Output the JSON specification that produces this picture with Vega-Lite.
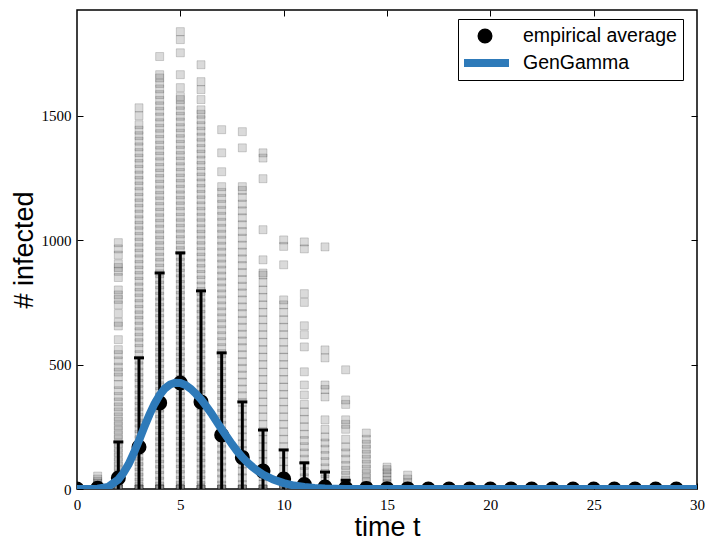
{
  "$schema": "https://vega.github.io/schema/vega-lite/v6.json",
  "width": 620,
  "height": 479,
  "autosize": {"type": "none"},
  "padding": {"left": 77, "top": 10, "right": 17, "bottom": 59},
  "background": "white",
  "config": {
    "view": {"stroke": "black", "strokeWidth": 1.5},
    "axis": {
      "grid": false,
      "domain": false,
      "tickSize": -6,
      "tickColor": "black",
      "tickWidth": 1,
      "labelFont": "Liberation Serif",
      "labelFontSize": 15,
      "labelColor": "black",
      "labelFlush": false,
      "labelOverlap": false,
      "titleFont": "Liberation Sans",
      "titleFontSize": 27,
      "titleFontWeight": "normal",
      "titleColor": "black"
    }
  },
  "datasets": {
    "sims": [
      {"t":0,"v":0},{"t":0,"v":0},{"t":0,"v":0},
      {"t":1,"v":0},{"t":1,"v":0},{"t":1,"v":0},{"t":1,"v":4},{"t":1,"v":9},{"t":1,"v":15},{"t":1,"v":22},{"t":1,"v":30},{"t":1,"v":40},{"t":1,"v":52},
      {"t":2,"v":0},{"t":2,"v":0},{"t":2,"v":0},{"t":2,"v":6},{"t":2,"v":15},{"t":2,"v":28},{"t":2,"v":42},{"t":2,"v":58},{"t":2,"v":75},{"t":2,"v":92},{"t":2,"v":110},{"t":2,"v":128},{"t":2,"v":146},{"t":2,"v":164},{"t":2,"v":182},{"t":2,"v":200},{"t":2,"v":218},{"t":2,"v":236},{"t":2,"v":254},{"t":2,"v":272},{"t":2,"v":290},{"t":2,"v":310},{"t":2,"v":330},{"t":2,"v":350},{"t":2,"v":372},{"t":2,"v":395},{"t":2,"v":420},{"t":2,"v":450},{"t":2,"v":470},{"t":2,"v":490},{"t":2,"v":515},{"t":2,"v":540},{"t":2,"v":560},{"t":2,"v":600},{"t":2,"v":655},{"t":2,"v":670},{"t":2,"v":705},{"t":2,"v":740},{"t":2,"v":762},{"t":2,"v":780},{"t":2,"v":800},{"t":2,"v":850},{"t":2,"v":875},{"t":2,"v":890},{"t":2,"v":905},{"t":2,"v":940},{"t":2,"v":965},{"t":2,"v":990},
      {"t":3,"v":0},{"t":3,"v":0},{"t":3,"v":0},{"t":3,"v":0},{"t":3,"v":10},{"t":3,"v":28},{"t":3,"v":48},{"t":3,"v":68},{"t":3,"v":90},{"t":3,"v":110},{"t":3,"v":132},{"t":3,"v":155},{"t":3,"v":175},{"t":3,"v":198},{"t":3,"v":220},{"t":3,"v":242},{"t":3,"v":265},{"t":3,"v":288},{"t":3,"v":310},{"t":3,"v":332},{"t":3,"v":355},{"t":3,"v":378},{"t":3,"v":400},{"t":3,"v":425},{"t":3,"v":448},{"t":3,"v":470},{"t":3,"v":495},{"t":3,"v":518},{"t":3,"v":540},{"t":3,"v":565},{"t":3,"v":588},{"t":3,"v":610},{"t":3,"v":632},{"t":3,"v":655},{"t":3,"v":678},{"t":3,"v":700},{"t":3,"v":722},{"t":3,"v":745},{"t":3,"v":768},{"t":3,"v":790},{"t":3,"v":812},{"t":3,"v":835},{"t":3,"v":858},{"t":3,"v":880},{"t":3,"v":902},{"t":3,"v":925},{"t":3,"v":948},{"t":3,"v":970},{"t":3,"v":992},{"t":3,"v":1015},{"t":3,"v":1038},{"t":3,"v":1060},{"t":3,"v":1082},{"t":3,"v":1105},{"t":3,"v":1128},{"t":3,"v":1150},{"t":3,"v":1172},{"t":3,"v":1195},{"t":3,"v":1218},{"t":3,"v":1240},{"t":3,"v":1262},{"t":3,"v":1285},{"t":3,"v":1308},{"t":3,"v":1330},{"t":3,"v":1352},{"t":3,"v":1375},{"t":3,"v":1398},{"t":3,"v":1420},{"t":3,"v":1442},{"t":3,"v":1464},{"t":3,"v":1500},{"t":3,"v":1532},
      {"t":4,"v":0},{"t":4,"v":0},{"t":4,"v":0},{"t":4,"v":0},{"t":4,"v":12},{"t":4,"v":32},{"t":4,"v":55},{"t":4,"v":78},{"t":4,"v":100},{"t":4,"v":122},{"t":4,"v":145},{"t":4,"v":168},{"t":4,"v":190},{"t":4,"v":212},{"t":4,"v":235},{"t":4,"v":258},{"t":4,"v":280},{"t":4,"v":302},{"t":4,"v":325},{"t":4,"v":348},{"t":4,"v":370},{"t":4,"v":392},{"t":4,"v":415},{"t":4,"v":438},{"t":4,"v":460},{"t":4,"v":482},{"t":4,"v":505},{"t":4,"v":528},{"t":4,"v":550},{"t":4,"v":572},{"t":4,"v":595},{"t":4,"v":618},{"t":4,"v":640},{"t":4,"v":662},{"t":4,"v":685},{"t":4,"v":708},{"t":4,"v":730},{"t":4,"v":752},{"t":4,"v":775},{"t":4,"v":798},{"t":4,"v":820},{"t":4,"v":842},{"t":4,"v":865},{"t":4,"v":888},{"t":4,"v":910},{"t":4,"v":932},{"t":4,"v":955},{"t":4,"v":978},{"t":4,"v":1000},{"t":4,"v":1022},{"t":4,"v":1045},{"t":4,"v":1068},{"t":4,"v":1090},{"t":4,"v":1112},{"t":4,"v":1135},{"t":4,"v":1158},{"t":4,"v":1180},{"t":4,"v":1202},{"t":4,"v":1225},{"t":4,"v":1248},{"t":4,"v":1270},{"t":4,"v":1292},{"t":4,"v":1315},{"t":4,"v":1338},{"t":4,"v":1360},{"t":4,"v":1382},{"t":4,"v":1405},{"t":4,"v":1428},{"t":4,"v":1450},{"t":4,"v":1472},{"t":4,"v":1495},{"t":4,"v":1518},{"t":4,"v":1540},{"t":4,"v":1562},{"t":4,"v":1585},{"t":4,"v":1608},{"t":4,"v":1630},{"t":4,"v":1652},{"t":4,"v":1665},{"t":4,"v":1738},
      {"t":5,"v":0},{"t":5,"v":0},{"t":5,"v":0},{"t":5,"v":0},{"t":5,"v":15},{"t":5,"v":35},{"t":5,"v":58},{"t":5,"v":80},{"t":5,"v":102},{"t":5,"v":125},{"t":5,"v":148},{"t":5,"v":170},{"t":5,"v":192},{"t":5,"v":215},{"t":5,"v":238},{"t":5,"v":260},{"t":5,"v":282},{"t":5,"v":305},{"t":5,"v":328},{"t":5,"v":350},{"t":5,"v":372},{"t":5,"v":395},{"t":5,"v":418},{"t":5,"v":440},{"t":5,"v":462},{"t":5,"v":485},{"t":5,"v":508},{"t":5,"v":530},{"t":5,"v":552},{"t":5,"v":575},{"t":5,"v":598},{"t":5,"v":620},{"t":5,"v":642},{"t":5,"v":665},{"t":5,"v":688},{"t":5,"v":710},{"t":5,"v":732},{"t":5,"v":755},{"t":5,"v":778},{"t":5,"v":800},{"t":5,"v":822},{"t":5,"v":845},{"t":5,"v":868},{"t":5,"v":890},{"t":5,"v":912},{"t":5,"v":935},{"t":5,"v":958},{"t":5,"v":980},{"t":5,"v":1002},{"t":5,"v":1025},{"t":5,"v":1048},{"t":5,"v":1070},{"t":5,"v":1092},{"t":5,"v":1115},{"t":5,"v":1138},{"t":5,"v":1160},{"t":5,"v":1182},{"t":5,"v":1205},{"t":5,"v":1228},{"t":5,"v":1250},{"t":5,"v":1272},{"t":5,"v":1295},{"t":5,"v":1318},{"t":5,"v":1340},{"t":5,"v":1362},{"t":5,"v":1385},{"t":5,"v":1408},{"t":5,"v":1430},{"t":5,"v":1452},{"t":5,"v":1475},{"t":5,"v":1498},{"t":5,"v":1520},{"t":5,"v":1542},{"t":5,"v":1565},{"t":5,"v":1577},{"t":5,"v":1613},{"t":5,"v":1665},{"t":5,"v":1753},{"t":5,"v":1806},{"t":5,"v":1838},
      {"t":6,"v":0},{"t":6,"v":0},{"t":6,"v":0},{"t":6,"v":0},{"t":6,"v":14},{"t":6,"v":36},{"t":6,"v":58},{"t":6,"v":80},{"t":6,"v":104},{"t":6,"v":126},{"t":6,"v":150},{"t":6,"v":172},{"t":6,"v":196},{"t":6,"v":218},{"t":6,"v":242},{"t":6,"v":264},{"t":6,"v":288},{"t":6,"v":310},{"t":6,"v":334},{"t":6,"v":356},{"t":6,"v":380},{"t":6,"v":402},{"t":6,"v":426},{"t":6,"v":448},{"t":6,"v":472},{"t":6,"v":494},{"t":6,"v":518},{"t":6,"v":540},{"t":6,"v":564},{"t":6,"v":586},{"t":6,"v":610},{"t":6,"v":632},{"t":6,"v":656},{"t":6,"v":678},{"t":6,"v":702},{"t":6,"v":724},{"t":6,"v":748},{"t":6,"v":770},{"t":6,"v":794},{"t":6,"v":816},{"t":6,"v":840},{"t":6,"v":862},{"t":6,"v":886},{"t":6,"v":908},{"t":6,"v":932},{"t":6,"v":954},{"t":6,"v":978},{"t":6,"v":1000},{"t":6,"v":1024},{"t":6,"v":1046},{"t":6,"v":1070},{"t":6,"v":1092},{"t":6,"v":1116},{"t":6,"v":1138},{"t":6,"v":1162},{"t":6,"v":1184},{"t":6,"v":1208},{"t":6,"v":1230},{"t":6,"v":1254},{"t":6,"v":1276},{"t":6,"v":1300},{"t":6,"v":1322},{"t":6,"v":1346},{"t":6,"v":1368},{"t":6,"v":1392},{"t":6,"v":1414},{"t":6,"v":1438},{"t":6,"v":1460},{"t":6,"v":1484},{"t":6,"v":1506},{"t":6,"v":1524},{"t":6,"v":1565},{"t":6,"v":1605},{"t":6,"v":1637},{"t":6,"v":1705},
      {"t":7,"v":0},{"t":7,"v":0},{"t":7,"v":0},{"t":7,"v":0},{"t":7,"v":16},{"t":7,"v":40},{"t":7,"v":64},{"t":7,"v":88},{"t":7,"v":112},{"t":7,"v":136},{"t":7,"v":160},{"t":7,"v":184},{"t":7,"v":208},{"t":7,"v":232},{"t":7,"v":256},{"t":7,"v":280},{"t":7,"v":304},{"t":7,"v":328},{"t":7,"v":352},{"t":7,"v":376},{"t":7,"v":400},{"t":7,"v":424},{"t":7,"v":448},{"t":7,"v":472},{"t":7,"v":496},{"t":7,"v":520},{"t":7,"v":544},{"t":7,"v":568},{"t":7,"v":592},{"t":7,"v":616},{"t":7,"v":640},{"t":7,"v":664},{"t":7,"v":688},{"t":7,"v":712},{"t":7,"v":736},{"t":7,"v":760},{"t":7,"v":784},{"t":7,"v":808},{"t":7,"v":832},{"t":7,"v":856},{"t":7,"v":880},{"t":7,"v":904},{"t":7,"v":928},{"t":7,"v":952},{"t":7,"v":976},{"t":7,"v":1000},{"t":7,"v":1024},{"t":7,"v":1048},{"t":7,"v":1072},{"t":7,"v":1096},{"t":7,"v":1120},{"t":7,"v":1144},{"t":7,"v":1168},{"t":7,"v":1192},{"t":7,"v":1215},{"t":7,"v":1275},{"t":7,"v":1351},{"t":7,"v":1444},
      {"t":8,"v":0},{"t":8,"v":0},{"t":8,"v":0},{"t":8,"v":0},{"t":8,"v":18},{"t":8,"v":45},{"t":8,"v":72},{"t":8,"v":100},{"t":8,"v":128},{"t":8,"v":155},{"t":8,"v":182},{"t":8,"v":210},{"t":8,"v":238},{"t":8,"v":265},{"t":8,"v":292},{"t":8,"v":320},{"t":8,"v":348},{"t":8,"v":375},{"t":8,"v":402},{"t":8,"v":430},{"t":8,"v":458},{"t":8,"v":485},{"t":8,"v":512},{"t":8,"v":540},{"t":8,"v":568},{"t":8,"v":595},{"t":8,"v":622},{"t":8,"v":650},{"t":8,"v":678},{"t":8,"v":705},{"t":8,"v":732},{"t":8,"v":760},{"t":8,"v":788},{"t":8,"v":815},{"t":8,"v":842},{"t":8,"v":870},{"t":8,"v":898},{"t":8,"v":925},{"t":8,"v":952},{"t":8,"v":980},{"t":8,"v":1008},{"t":8,"v":1035},{"t":8,"v":1062},{"t":8,"v":1090},{"t":8,"v":1118},{"t":8,"v":1145},{"t":8,"v":1172},{"t":8,"v":1200},{"t":8,"v":1215},{"t":8,"v":1371},{"t":8,"v":1436},
      {"t":9,"v":0},{"t":9,"v":0},{"t":9,"v":0},{"t":9,"v":0},{"t":9,"v":20},{"t":9,"v":50},{"t":9,"v":80},{"t":9,"v":110},{"t":9,"v":140},{"t":9,"v":170},{"t":9,"v":200},{"t":9,"v":230},{"t":9,"v":260},{"t":9,"v":290},{"t":9,"v":320},{"t":9,"v":350},{"t":9,"v":380},{"t":9,"v":410},{"t":9,"v":440},{"t":9,"v":470},{"t":9,"v":500},{"t":9,"v":530},{"t":9,"v":560},{"t":9,"v":590},{"t":9,"v":620},{"t":9,"v":650},{"t":9,"v":680},{"t":9,"v":710},{"t":9,"v":740},{"t":9,"v":770},{"t":9,"v":800},{"t":9,"v":830},{"t":9,"v":860},{"t":9,"v":868},{"t":9,"v":921},{"t":9,"v":1042},{"t":9,"v":1247},{"t":9,"v":1330},{"t":9,"v":1351},
      {"t":10,"v":0},{"t":10,"v":0},{"t":10,"v":0},{"t":10,"v":0},{"t":10,"v":22},{"t":10,"v":50},{"t":10,"v":80},{"t":10,"v":110},{"t":10,"v":140},{"t":10,"v":170},{"t":10,"v":200},{"t":10,"v":230},{"t":10,"v":260},{"t":10,"v":290},{"t":10,"v":320},{"t":10,"v":350},{"t":10,"v":380},{"t":10,"v":410},{"t":10,"v":440},{"t":10,"v":470},{"t":10,"v":500},{"t":10,"v":530},{"t":10,"v":560},{"t":10,"v":590},{"t":10,"v":620},{"t":10,"v":650},{"t":10,"v":680},{"t":10,"v":710},{"t":10,"v":740},{"t":10,"v":760},{"t":10,"v":901},{"t":10,"v":975},{"t":10,"v":1001},
      {"t":11,"v":0},{"t":11,"v":0},{"t":11,"v":0},{"t":11,"v":0},{"t":11,"v":20},{"t":11,"v":45},{"t":11,"v":70},{"t":11,"v":95},{"t":11,"v":120},{"t":11,"v":145},{"t":11,"v":170},{"t":11,"v":195},{"t":11,"v":220},{"t":11,"v":250},{"t":11,"v":280},{"t":11,"v":310},{"t":11,"v":340},{"t":11,"v":378},{"t":11,"v":418},{"t":11,"v":471},{"t":11,"v":571},{"t":11,"v":620},{"t":11,"v":656},{"t":11,"v":750},{"t":11,"v":785},{"t":11,"v":965},{"t":11,"v":993},
      {"t":12,"v":0},{"t":12,"v":0},{"t":12,"v":0},{"t":12,"v":0},{"t":12,"v":18},{"t":12,"v":40},{"t":12,"v":62},{"t":12,"v":85},{"t":12,"v":110},{"t":12,"v":135},{"t":12,"v":160},{"t":12,"v":185},{"t":12,"v":209},{"t":12,"v":240},{"t":12,"v":278},{"t":12,"v":370},{"t":12,"v":400},{"t":12,"v":418},{"t":12,"v":527},{"t":12,"v":559},{"t":12,"v":973},
      {"t":13,"v":0},{"t":13,"v":0},{"t":13,"v":0},{"t":13,"v":15},{"t":13,"v":35},{"t":13,"v":55},{"t":13,"v":75},{"t":13,"v":95},{"t":13,"v":120},{"t":13,"v":145},{"t":13,"v":169},{"t":13,"v":200},{"t":13,"v":240},{"t":13,"v":260},{"t":13,"v":278},{"t":13,"v":340},{"t":13,"v":358},{"t":13,"v":479},
      {"t":14,"v":0},{"t":14,"v":0},{"t":14,"v":0},{"t":14,"v":12},{"t":14,"v":28},{"t":14,"v":45},{"t":14,"v":62},{"t":14,"v":80},{"t":14,"v":100},{"t":14,"v":120},{"t":14,"v":140},{"t":14,"v":160},{"t":14,"v":180},{"t":14,"v":200},{"t":14,"v":225},
      {"t":15,"v":0},{"t":15,"v":0},{"t":15,"v":0},{"t":15,"v":10},{"t":15,"v":22},{"t":15,"v":35},{"t":15,"v":50},{"t":15,"v":65},{"t":15,"v":78},{"t":15,"v":88},
      {"t":16,"v":0},{"t":16,"v":0},{"t":16,"v":0},{"t":16,"v":12},{"t":16,"v":25},{"t":16,"v":40},{"t":16,"v":56}
    ],
    "avg": [
      {"t":0,"mean":0,"lo":0,"hi":0},{"t":1,"mean":3,"lo":0,"hi":10},{"t":2,"mean":44,"lo":0,"hi":189},{"t":3,"mean":169,"lo":0,"hi":527},
      {"t":4,"mean":346,"lo":0,"hi":868},{"t":5,"mean":426,"lo":0,"hi":949},{"t":6,"mean":350,"lo":0,"hi":796},{"t":7,"mean":217,"lo":0,"hi":547},
      {"t":8,"mean":127,"lo":0,"hi":350},{"t":9,"mean":72,"lo":0,"hi":237},{"t":10,"mean":40,"lo":0,"hi":157},{"t":11,"mean":18,"lo":0,"hi":105},
      {"t":12,"mean":8,"lo":0,"hi":68},{"t":13,"mean":4,"lo":0,"hi":35},{"t":14,"mean":2,"lo":0,"hi":20},{"t":15,"mean":1,"lo":0,"hi":8},
      {"t":16,"mean":0.5,"lo":0,"hi":4},{"t":17,"mean":0,"lo":0,"hi":0},{"t":18,"mean":0,"lo":0,"hi":0},{"t":19,"mean":0,"lo":0,"hi":0},
      {"t":20,"mean":0,"lo":0,"hi":0},{"t":21,"mean":0,"lo":0,"hi":0},{"t":22,"mean":0,"lo":0,"hi":0},{"t":23,"mean":0,"lo":0,"hi":0},
      {"t":24,"mean":0,"lo":0,"hi":0},{"t":25,"mean":0,"lo":0,"hi":0},{"t":26,"mean":0,"lo":0,"hi":0},{"t":27,"mean":0,"lo":0,"hi":0},
      {"t":28,"mean":0,"lo":0,"hi":0},{"t":29,"mean":0,"lo":0,"hi":0}
    ],
    "fit": [
      {"t":0,"y":0},{"t":0.5,"y":0},{"t":1,"y":1},{"t":1.5,"y":8},{"t":2,"y":38},{"t":2.25,"y":65},{"t":2.5,"y":100},
      {"t":2.75,"y":145},{"t":3,"y":195},{"t":3.25,"y":248},{"t":3.5,"y":298},{"t":3.75,"y":342},{"t":4,"y":378},
      {"t":4.25,"y":404},{"t":4.5,"y":420},{"t":4.75,"y":427},{"t":5,"y":426},{"t":5.25,"y":418},{"t":5.5,"y":403},
      {"t":5.75,"y":383},{"t":6,"y":360},{"t":6.25,"y":333},{"t":6.5,"y":304},{"t":6.75,"y":272},{"t":7,"y":240},
      {"t":7.25,"y":210},{"t":7.5,"y":180},{"t":7.75,"y":152},{"t":8,"y":127},{"t":8.25,"y":106},{"t":8.5,"y":88},
      {"t":8.75,"y":72},{"t":9,"y":58},{"t":9.5,"y":38},{"t":10,"y":24},{"t":10.5,"y":14},{"t":11,"y":8},
      {"t":11.5,"y":4},{"t":12,"y":2},{"t":13,"y":0.5},{"t":14,"y":0},{"t":30,"y":0}
    ]
  },
  "layer": [
    {
      "layer": [
        {
          "data": {"name": "sims"},
          "mark": {"type": "point", "shape": "square", "size": 64, "filled": false, "fill": "#707070", "fillOpacity": 0.26, "stroke": "#000000", "strokeOpacity": 0.16, "strokeWidth": 1, "clip": true},
          "encoding": {
            "x": {"field": "t", "type": "quantitative", "scale": {"domain": [0, 30], "nice": false},
              "axis": {"orient": "bottom", "values": [0, 5, 10, 15, 20, 25, 30], "labelPadding": 14, "title": "time t", "titlePadding": 2}},
            "y": {"field": "v", "type": "quantitative", "scale": {"domain": [0, 1925], "nice": false},
              "axis": {"orient": "left", "values": [0, 500, 1000, 1500], "format": "d", "labelPadding": 12, "title": "# infected", "titlePadding": 3}}
          }
        },
        {
          "data": {"name": "avg"},
          "mark": {"type": "rule", "color": "black", "strokeWidth": 3, "clip": true},
          "encoding": {
            "x": {"field": "t", "type": "quantitative"},
            "y": {"field": "lo", "type": "quantitative"},
            "y2": {"field": "hi"}
          }
        },
        {
          "data": {"name": "avg"},
          "mark": {"type": "tick", "orient": "horizontal", "color": "black", "size": 10, "thickness": 3, "opacity": 1, "clip": true},
          "encoding": {
            "x": {"field": "t", "type": "quantitative"},
            "y": {"field": "hi", "type": "quantitative"}
          }
        },
        {
          "data": {"name": "avg"},
          "mark": {"type": "point", "filled": true, "opacity": 1, "strokeWidth": 8, "clip": true},
          "encoding": {
            "x": {"field": "t", "type": "quantitative"},
            "y": {"field": "mean", "type": "quantitative"},
            "color": {
              "datum": "empirical average",
              "type": "nominal",
              "scale": {"domain": ["empirical average", "GenGamma"], "range": ["black", "#2e7ab9"]},
              "legend": {
                "title": null,
                "orient": "none",
                "legendX": 381,
                "legendY": 9,
                "strokeColor": "black",
                "fillColor": "white",
                "padding": 6,
                "clipHeight": 22,
                "symbolOffset": -7,
                "labelOffset": 10,
                "rowPadding": 5,
                "symbolStrokeWidth": 8,
                "symbolOpacity": 1,
                "labelFont": "Liberation Sans",
                "labelFontSize": 19.5,
                "labelColor": "black"
              }
            },
            "stroke": {
              "datum": "empirical average",
              "type": "nominal",
              "scale": {"domain": ["empirical average", "GenGamma"], "range": ["black", "#2e7ab9"]},
              "legend": {"title": null}
            },
            "shape": {
              "datum": "empirical average",
              "type": "nominal",
              "scale": {"domain": ["empirical average", "GenGamma"], "range": ["circle", "stroke"]},
              "legend": {"title": null}
            },
            "size": {
              "datum": "empirical average",
              "type": "ordinal",
              "scale": {"domain": ["empirical average", "GenGamma"], "range": [49, 2304]},
              "legend": {"title": null}
            }
          }
        },
        {
          "data": {"name": "fit"},
          "mark": {"type": "line", "strokeWidth": 8, "clip": true},
          "encoding": {
            "x": {"field": "t", "type": "quantitative"},
            "y": {"field": "y", "type": "quantitative"},
            "color": {"datum": "GenGamma", "type": "nominal"}
          }
        }
      ]
    },
    {
      "data": {"values": [{"t": 0, "v": 0}]},
      "mark": {"type": "point", "opacity": 0},
      "encoding": {
        "x": {"field": "t", "type": "quantitative", "scale": {"domain": [0, 30], "nice": false},
          "axis": {"orient": "top", "values": [5, 10, 15, 20, 25], "labels": false, "title": null}},
        "y": {"field": "v", "type": "quantitative", "scale": {"domain": [0, 1925], "nice": false},
          "axis": {"orient": "right", "values": [500, 1000, 1500], "labels": false, "title": null}}
      }
    }
  ],
  "resolve": {"scale": {"x": "independent", "y": "independent"}}
}
